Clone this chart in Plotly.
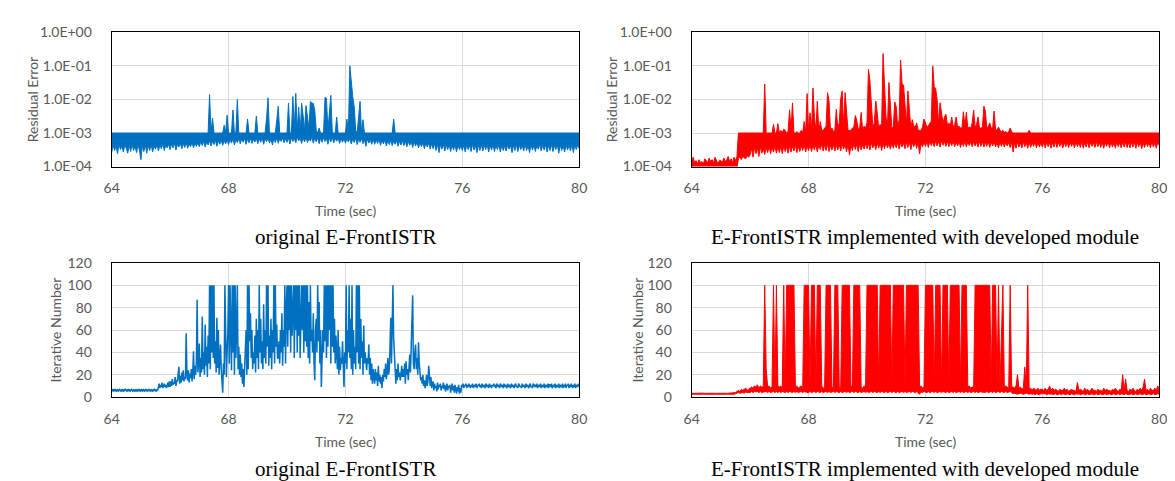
import plotly.graph_objects as go

# ---------------- data ----------------
X_TICKS = [64, 68, 72, 76, 80]
RES_TICK_VALS = [1e-4, 1e-3, 1e-2, 1e-1, 1e0]
RES_TICK_TEXT = ["1.0E-04", "1.0E-03", "1.0E-02", "1.0E-01", "1.0E+00"]
ITER_TICKS = [0, 20, 40, 60, 80, 100, 120]

T0 = 64.0          # first sample time (s)
DT = 0.05          # sampling step of the envelope series (s)
DT_FINE = 0.025    # sampling step of the iterative-number series (original)
RES_UNIT = 1e-4    # residual values below are given in units of 1e-4

CAPTION_ORIG = "original E-FrontISTR"
CAPTION_MOD = "E-FrontISTR implemented with developed module"

# Dense signals are given as per-sample upper / lower envelopes (one row per second)

# residual error, original E-FrontISTR (units of 1e-4)
RES_ORIG_HI = (
    [10,10,10,10,10,10,10,10,10,10,10,10,10,10,10,10,10,10,10,10]                # 64
  + [10,10,10,10,10,10,10,10,10,10,10,10,10,10,10,10,10,10,10,10]                # 65
  + [10,10,10,10,10,10,10,10,10,10,10,10,10,10,10,10,10,10,10,10]                # 66
  + [10,10,10,10,10,10,10,140,10,28,10,10,10,10,10,10,10,17,10,34]               # 67
  + [10,10,10,49,10,10,100,10,10,10,10,10,10,26,10,10,10,10,10,32]               # 68
  + [10,10,10,10,10,10,27,112,10,10,10,10,10,24,63,10,10,10,10,10]               # 69
  + [10,78,10,10,123,14,152,12,59,10,77,34,12,66,30,14,87,78,76,47]              # 70
  + [12,10,14,10,10,10,115,108,12,53,133,10,10,10,30,10,10,10,10,10]             # 71
  + [10,26,10,1000,310,120,60,12,10,43,88,10,25,10,10,10,10,10,10,10]            # 72
  + [10,10,10,10,10,10,10,10,10,10,10,10,10,26,10,10,10,10,10,10]                # 73
  + [10,10,10,10,10,10,10,10,10,10,10,10,10,10,10,10,10,10,10,10]                # 74
  + [10,10,10,10,10,10,10,10,10,10,10,10,10,10,10,10,10,10,10,10]                # 75
  + [10,10,10,10,10,10,10,10,10,10,10,10,10,10,10,10,10,10,10,10]                # 76
  + [10,10,10,10,10,10,10,10,10,10,10,10,10,10,10,10,10,10,10,10]                # 77
  + [10,10,10,10,10,10,10,10,10,10,10,10,10,10,10,10,10,10,10,10]                # 78
  + [10,10,10,10,10,10,10,10,10,10,10,10,10,10,10,10,10,10,10,10]                # 79
  + [10]                                                                         # 80
)
RES_ORIG_LO = (
    [2.6,4.5,3,4.2,2.4,4.6,3.2,4,2.7,4.4,3.5,2.5,4.3,2.8,4.6,3,4.1,2.6,4.4,3.1]    # 64
  + [1.6,4.2,2.8,4.5,2.5,4.3,3,4.6,2.7,4.1,3.3,4.5,2.9,4.4,3.4,4.7,3,4.3,3.6,4.6]  # 65
  + [3.2,4.8,3.6,5,3.1,4.7,3.8,5.1,3.4,4.9,3.7,5.2,3.5,4.8,3.9,5.3,3.6,5,4,5.2]    # 66
  + [3.9,5.6,4.2,5.8,3.8,5.5,4.4,6,4.1,5.7,4.5,6.1,4,5.9,4.6,6.2,4.3,6,4.7,6.3]    # 67
  + [4.5,6.5,5,6.8,4.4,6.4,5.2,6.9,4.8,6.6,5.3,7,4.6,6.7,5.1,7.1,4.9,6.5,5.4,7]    # 68
  + [4.8,6.8,5.3,7.2,4.6,6.9,5.5,7.1,5,6.7,4.4,7,5.2,7.3,4.9,6.8,5.6,7.2,5.1,6.9]  # 69
  + [5.3,7.2,4.7,7.4,5.6,7,5.1,7.5,5.8,7.1,4.9,7.3,5.4,7.6,5.2,7,5.7,7.4,5,7.2]    # 70
  + [5.5,7.3,4.8,7.1,5.3,7.4,5.6,7,4.6,7.2,5.4,7.5,5.1,6.9,5.7,7.2,4.9,7,5.3,6.8]  # 71
  + [5,6.9,5.4,7,4.7,6.8,5.2,7.1,4.5,6.6,5.3,6.9,4.8,6.5,4,6.7,5,6.4,4.6,6.6]      # 72
  + [4.6,6.3,4.9,6.5,4.3,6.2,4.7,6.4,4.1,6,4.5,6.2,4.2,5.9,4.6,6.1,4,5.8,4.4,6]    # 73
  + [4.2,5.8,3.9,5.6,4.3,5.7,3.7,5.5,4.1,5.4,3.6,5.2,3.9,5.3,3.4,5,3.8,5.1,3.3,4.9]  # 74
  + [3.4,4.8,3,4.7,2.6,4.5,3.3,4.6,2.9,4.4,3.2,4.6,2.8,4.3,3.1,4.5,2.7,4.4,3.2,4.2]  # 75
  + [3,4.4,2.7,4.5,3.2,4.3,2.8,4.6,3.1,4.2,2.6,4.4,3,4.5,2.9,4.3,3.2,4.6,2.7,4.4]  # 76
  + [3.1,4.5,2.8,4.3,3.2,4.6,2.7,4.4,3,4.2,2.9,4.5,3.3,4.3,2.6,4.4,3,4.6,2.8,4.3]  # 77
  + [3.2,4.4,2.9,4.6,3,4.3,2.6,4.5,3.1,4.4,2.8,4.2,3.3,4.6,2.9,4.4,3.1,4.5,2.7,4.3]  # 78
  + [3,4.5,2.8,4.3,3.2,4.6,2.5,4.4,3,4.2,2.7,4.5,3.1,4.3,2.9,4.6,2.6,4.4,3.2,4.5]  # 79
  + [3.4]                                                                         # 80
)

# residual error, with developed module (units of 1e-4)
RES_MOD_HI = (
    [1.4,1.9,1.3,1.5,1.2,1.6,1.3,1.4,1.2,1.7,1.5,1.3,1.8,1.4,1.6,1.3,1.9,1.4,1.2,1.5]  # 64
  + [1.5,1.3,1.8,1.4,1.6,2,1.4,1.7,1.3,1.9,1.5,2,10,10,10,10,10,10,10,10]             # 65
  + [10,10,10,10,10,10,10,10,10,10,290,10,10,10,10,10,18,10,10,19]                    # 66
  + [10,12,10,13,12,10,11,49,12,79,10,10,11,10,10,12,10,22,10,150]                    # 67
  + [12,40,11,220,30,12,90,11,22,12,12,14,16,160,90,12,14,11,12,51]                   # 68
  + [14,20,104,180,15,160,50,12,12,12,14,15,33,24,13,14,41,12,16,14]                  # 69
  + [20,790,360,50,15,20,90,40,14,18,16,2340,230,30,16,320,70,14,15,85]               # 70
  + [60,15,25,1500,290,270,70,18,180,50,14,25,16,15,20,12,12,12,15,26]                # 71
  + [20,15,16,20,22,1000,240,210,100,18,80,40,20,30,36,18,20,16,30,15]                # 72
  + [18,30,15,16,14,14,43,16,41,14,15,14,20,48,15,18,30,14,14,15]                     # 73
  + [63,45,14,16,20,14,14,45,13,12,15,12,11,12,10.5,11,10,11,14,11]                   # 74
  + [10,10,10,10,10,10,10,10,10,10,10,12,10,10,10,10,10,10,10,10]                     # 75
  + [10,10,10,10,10,10,10,10,10,10,10,10,10,10,10,10,10,10,10,10]                     # 76
  + [10,10,10,10,10,10,10,10,10,10,10,10,10,10,10,10,10,10,10,10]                     # 77
  + [10,10,10,10,10,10,10,10,10,10,10,10,10,10,10,10,10,10,10,10]                     # 78
  + [10,10,10,10,10,10,10,10,10,10,10,10,10,10,10,10,10,10,10,10]                     # 79
  + [10]                                                                              # 80
)
RES_MOD_LO = (
    [0.9,0.9,0.9,0.9,0.9,0.9,0.9,0.9,0.9,0.9,0.9,0.9,0.9,0.9,0.9,0.9,0.9,0.9,0.9,0.9]  # 64
  + [0.9,0.9,0.9,0.9,0.9,0.9,0.9,0.9,0.9,0.9,0.9,0.9,1.7,1.9,1.6,2,1.8,1.7,2.1,1.9]    # 65
  + [2.2,3.5,1.9,3.8,2.4,3.6,2,3.9,2.5,3.4,2.3,3.7,2.6,4,2.4,3.8,2.7,4.1,2.5,3.9]      # 66
  + [2.6,4,2.4,4.2,2.8,3.9,2.5,4.3,2.7,4.1,2.9,4.4,2.6,4,2.8,4.2,3,4.5,2.7,4.1]        # 67
  + [3,4.5,2.8,4.3,3.1,4.6,2.7,4.4,3.2,4.7,2.9,4.5,3,4.8,2.8,4.4,3.1,4.6,2.9,4.5]      # 68
  + [3.1,4.6,2.9,4.8,3.3,4.5,2.7,4.7,2.2,4.4,3,4.9,3.2,4.6,2.8,4.8,3.1,4.5,3.3,4.9]    # 69
  + [3.4,5,3.1,5.2,3.6,4.9,3.2,5.1,3.5,5.3,3,5,3.4,5.2,3.6,4.8,3.3,5.1,3.5,5.2]        # 70
  + [3.6,5.3,3.3,5.5,3.8,5.1,3.4,5.4,3.7,5.6,3.2,5.2,3.9,5.5,3.5,5.3,2.4,5,3.8,5.4]    # 71
  + [4,5.6,3.7,5.8,4.2,5.5,3.9,5.9,4.1,5.7,3.8,6,4.3,5.6,4,5.8,3.9,5.5,4.2,5.7]        # 72
  + [3.9,5.5,4.1,5.7,3.7,5.4,4,5.8,3.8,5.5,4.2,5.6,3.9,5.7,4.1,5.4,3.8,5.6,4,5.5]      # 73
  + [3.8,5.4,4,5.6,3.7,5.3,4.1,5.5,3.9,5.2,3.6,5.4,4,5.5,3.8,5.3,4.1,5.2,3.7,5.4]      # 74
  + [2.7,5.2,3.5,5.4,3.8,5.1,3.6,5.5,3.9,5.3,3.5,5.4,3.7,5.2,4,5.5,3.6,5.3,3.8,5.1]    # 75
  + [3.8,5.3,3.6,5.5,3.9,5.2,3.5,5.4,3.8,5.6,3.7,5.3,4,5.5,3.6,5.2,3.9,5.4,3.7,5.5]    # 76
  + [4,5.4,3.6,5.5,3.9,5.2,3.7,5.6,3.5,5.3,3.8,5.5,3.6,5.4,4,5.2,3.7,5.5,3.9,5.3]      # 77
  + [3.7,5.5,3.5,5.3,4,5.6,3.6,5.4,3.8,5.2,3.5,5.5,3.9,5.3,3.6,5.6,3.8,5.4,3.7,5.3]    # 78
  + [3.6,5.4,3.8,5.6,3.5,5.3,3.9,5.5,3.4,5.2,3.7,5.5,3.9,5.4,3.6,5.6,3.8,5.3,3.5,5.4]  # 79
  + [4.2]                                                                             # 80
)

# iterative number, original E-FrontISTR (sample by sample, 40 per second)
ITER_ORIG = (
    [6,7,5,7,6,7,5,6,7,5,6,7,6,5,7,6,5,7,6,7,6,5,7,6,7,5,6,7,6,5,7,6,5,7,6,5,7,6,7,5]                          # 64
  + [6,7,5,7,6,5,7,6,7,5,6,7,6,5,7,6,5,7,6,7,6,5,7,6,9,12,8,11,9,13,8,10,12,9,11,8,10,13,9,14]                 # 65
  + [9,14,10,16,11,13,12,18,10,15,14,20,27,12,19,13,22,15,24,14,18,16,57,20,15,24,13,21,17,25,14,22,41,16,28,20,33,87,22,30]  # 66
  + [48,18,35,22,72,25,40,20,65,28,45,18,55,30,100,25,100,40,100,35,100,30,50,22,71,26,60,20,38,47,25,15,4,30,20,100,35,18,40,58]  # 67
  + [100,30,100,45,24,100,40,100,20,100,35,60,100,25,45,20,38,18,30,12,25,9,30,45,60,20,100,25,100,50,75,35,60,25,40,30,55,22,70,35]  # 68
  + [60,25,100,40,70,30,50,25,83,35,60,30,100,45,100,28,55,35,70,25,60,40,100,30,100,45,65,35,35,50,30,60,40,75,28,60,45,100,30,80]  # 69
  + [100,45,100,60,100,40,100,55,80,100,35,100,60,100,40,100,55,100,35,90,100,60,100,40,100,50,100,45,100,35,85,30,100,50,60,40,75,30,15,60]  # 70
  + [70,40,100,50,85,30,60,9,45,60,40,100,50,100,35,100,45,100,60,100,30,100,45,100,40,70,30,55,40,25,60,20,45,24,35,30,50,20,9,40]  # 71
  + [30,100,25,60,40,100,35,70,25,100,20,60,30,45,25,100,40,100,30,100,25,70,35,50,20,64,30,40,25,24,35,30,47,20,35,15,30,12,25,18]  # 72
  + [12,25,15,22,10,28,14,20,12,18,8,20,14,25,18,30,16,22,35,20,25,45,71,30,60,100,52,35,20,12,25,15,30,18,22,15,20,28,18,25]  # 73
  + [18,30,12,32,20,25,15,30,38,22,45,60,91,30,25,40,47,25,35,20,49,30,22,15,18,12,20,10,15,8,12,20,10,15,28,12,10,18,8,12]  # 74
  + [14,6,12,8,10,5,13,7,11,9,12,6,10,8,13,7,11,5,9,12,6,10,8,11,4,9,12,6,10,4,11,7,3,9,5,11,3,8,4,11]           # 75
  + [9,12,8,11,10,12,8,11,9,12,10,8,11,9,12,8,10,11,9,12,8,11,10,12,9,11,8,12,10,9,11,8,12,10,9,11,8,12,9,11]     # 76
  + [8,11,10,12,9,11,8,12,10,9,11,8,12,10,9,11,8,12,9,11,10,8,12,9,11,10,8,12,9,11,10,8,11,12,9,10,8,12,11,9]     # 77
  + [10,8,12,9,11,10,8,12,9,11,10,8,11,12,9,10,8,12,11,9,11,9,12,8,10,11,9,12,8,11,10,9,12,8,11,10,9,12,8,11]     # 78
  + [11,9,12,8,10,11,9,12,8,11,10,9,12,8,11,10,9,12,8,11,9,12,8,11,10,12,8,11,9,12,10,8,11,9,12,8,10,11,9,12]     # 79
  + [10]                                                                                                         # 80
)

# iterative number, with developed module (envelopes, 20 per second)
ITER_MOD_HI = (
    [3.3,3.4,3.3,3.5,3.3,3.4,3.3,3.4,3.5,3.3,3.4,3.3,3.4,3.3,3.5,3.4,3.3,3.4,3.3,3.4]     # 64
  + [3.4,3.3,3.5,3.4,3.3,3.4,3.5,3.3,3.4,3.5,4,5,6,5,7,6,7,8,6,7]                       # 65
  + [8,9,8,10,9,11,8,10,9,9,100,25,9,10,8,9,100,9,100,10]                               # 66
  + [9,10,8,100,9,100,100,100,100,100,100,9,10,8,9,10,8,100,100,100]                    # 67
  + [100,9,100,100,100,9,100,100,100,10,8,9,100,100,100,100,9,8,100,100]                # 68
  + [100,9,8,100,100,100,100,100,100,10,9,100,100,100,100,100,9,8,10,9]                 # 69
  + [100,100,100,100,100,100,100,100,9,100,100,100,100,100,100,100,100,10,100,100]      # 70
  + [100,100,100,100,100,100,9,100,100,100,100,100,100,100,100,100,9,10,8,9]            # 71
  + [100,100,100,100,100,100,10,100,100,100,100,9,100,100,100,100,9,100,100,100]        # 72
  + [100,100,100,100,9,100,100,100,100,9,10,8,9,9,100,100,100,100,100,100]              # 73
  + [100,100,100,100,100,9,100,100,100,9,100,9,53,100,9,10,9,8,100,9]                   # 74
  + [9,8,10,20,8,9,7,8,27,8,100,7,8,6,8,7,6,8,6,7]                                      # 75
  + [7,6,8,6,7,10,6,8,6,7,6,5,7,6,6,8,6,7,5,6]                                          # 76
  + [7,6,6,5,13,6,7,6,5,8,6,7,5,6,8,6,6,5,7,6]                                          # 77
  + [6,5,8,6,7,6,6,5,7,6,8,6,5,7,6,20,6,16,6,5]                                         # 78
  + [7,6,8,6,5,7,6,8,6,9,16,6,7,5,8,6,6,8,6,10]                                         # 79
  + [7]                                                                                 # 80
)
ITER_MOD_LO = (
    [2.6,2.5,2.6,2.5,2.6,2.5,2.6,2.5,2.6,2.5,2.6,2.5,2.6,2.5,2.6,2.5,2.6,2.5,2.6,2.5]     # 64
  + [2.6,2.5,2.6,2.5,2.6,2.5,2.6,2.5,2.6,2.5,3,3.5,4,3.5,4,4,3.5,4.5,4,4]               # 65
  + [4,5,4,5,4.5,5,4,5,4,4.5,5,5,4,5,4,4.5,5,4,5,4]                                     # 66
  + [5,4,5,4.5,4,5,4,5,4.5,4,5,4,5,4,4.5,5,4,5,4.5,4]                                   # 67
  + [4,5,4,4.5,5,4,5,4.5,4,5,4,4.5,5,4,5,4,4.5,5,4,5]                                   # 68
  + [4.5,4,5,4,4.5,5,4,5,4,4.5,5,4,5,4.5,4,5,4,4.5,5,4]                                 # 69
  + [5,4,4.5,5,4,5,4.5,4,5,4,5,4.5,4,5,4,4.5,5,4,5,4.5]                                 # 70
  + [4,5,4,4.5,5,4,5,4,4.5,5,4,5,4.5,4,5,4,2.5,4.5,4,5]                                 # 71
  + [4.5,4,5,4,4.5,5,4,5,4,4.5,5,4,5,4.5,4,5,4,4.5,5,4]                                 # 72
  + [5,4,4.5,5,4,5,4,4.5,5,4,5,4,4.5,5,4,5,4,4.5,5,4]                                   # 73
  + [4.5,4,5,4,4.5,5,4,5,4,4.5,5,4,5,4.5,4,5,4,4.5,5,4]                                 # 74
  + [3,3.5,3,2.5,3,3.5,3,2.5,3,3.5,3,2.5,3,2.5,3,2,3,2.5,2,3]                           # 75
  + [3,2.5,3,2,3,2.5,3,2,2.5,3,2,2.5,3,2,3,2.5,2,3,2.5,2]                               # 76
  + [3,2.5,2,3,2.5,3,2,2.5,3,2,2.5,3,2,2.5,3,2,2.5,3,2,2.5]                             # 77
  + [3,2,2.5,3,2,2.5,3,2,2.5,3,2,2.5,3,2,3,2.5,2,3,2.5,2]                               # 78
  + [2.5,3,2,2.5,3,2,2.5,3,2,2.5,3,2,2.5,3,2,2.5,3,2,2.5,3]                             # 79
  + [2.5]                                                                               # 80
)

# ---------------- layout / style ----------------
W, H = 1175, 481
BLUE = "#0070C0"
RED = "#FF0000"
GRID = "#D9D9D9"
TICK_COLOR = "#595959"
SANS = "Lato, Carlito, Calibri, sans-serif"
SERIF = "Liberation Serif, Times New Roman, serif"

def px_x(p):
    return p / W

def px_y(p):
    return 1 - p / H

LEFT = (97, 571)
RIGHT = (685, 1159)
TOP = (16, 155)
BOTTOM = (255, 394)

fig = go.Figure()

def add_band(lo, hi, color, xa, ya, scale=1.0):
    fig.add_trace(go.Scatter(x0=T0, dx=DT, y=[v * scale for v in lo], mode="lines",
                             line=dict(color=color, width=1), xaxis=xa, yaxis=ya,
                             showlegend=False, hoverinfo="skip"))
    fig.add_trace(go.Scatter(x0=T0, dx=DT, y=[v * scale for v in hi], mode="lines",
                             line=dict(color=color, width=1), fill="tonexty",
                             fillcolor=color, xaxis=xa, yaxis=ya,
                             showlegend=False, hoverinfo="skip"))

add_band(RES_ORIG_LO, RES_ORIG_HI, BLUE, "x", "y", RES_UNIT)
add_band(RES_MOD_LO, RES_MOD_HI, RED, "x2", "y2", RES_UNIT)
fig.add_trace(go.Scatter(x0=T0, dx=DT_FINE, y=ITER_ORIG, mode="lines",
                         line=dict(color=BLUE, width=1.5), xaxis="x3", yaxis="y3",
                         showlegend=False, hoverinfo="skip"))
add_band(ITER_MOD_LO, ITER_MOD_HI, RED, "x4", "y4")

common = dict(showgrid=True, gridcolor=GRID, gridwidth=1, showline=True,
              linecolor="black", linewidth=1, mirror=True, zeroline=False,
              ticks="", tickfont=dict(family=SANS, size=14, color=TICK_COLOR))

def xax(dom, anchor):
    return dict(common, domain=[px_x(dom[0]), px_x(dom[1])], anchor=anchor,
                range=[X_TICKS[0], X_TICKS[-1]], tickvals=X_TICKS,
                ticklabelstandoff=9)

def yax_res(dom, anchor):
    return dict(common, domain=[px_y(dom[1]), px_y(dom[0])], anchor=anchor,
                type="log", range=[-4, 0], tickvals=RES_TICK_VALS,
                ticktext=RES_TICK_TEXT, ticklabelstandoff=16)

def yax_iter(dom, anchor):
    return dict(common, domain=[px_y(dom[1]), px_y(dom[0])], anchor=anchor,
                range=[0, 120], tickvals=ITER_TICKS, ticklabelstandoff=16)

fig.update_layout(
    width=W, height=H,
    margin=dict(l=0, r=0, t=0, b=0),
    paper_bgcolor="white", plot_bgcolor="white",
    xaxis=xax(LEFT, "y"), yaxis=yax_res(TOP, "x"),
    xaxis2=xax(RIGHT, "y2"), yaxis2=yax_res(TOP, "x2"),
    xaxis3=xax(LEFT, "y3"), yaxis3=yax_iter(BOTTOM, "x3"),
    xaxis4=xax(RIGHT, "y4"), yaxis4=yax_iter(BOTTOM, "x4"),
)

ann = []
def add_text(text, xp, yp, size, family, color, angle=0):
    ann.append(dict(text=text, x=px_x(xp), y=px_y(yp), xref="paper", yref="paper",
                    showarrow=False, xanchor="center", yanchor="middle",
                    textangle=angle, font=dict(family=family, size=size, color=color)))

for (col, ytitle_x_top, ytitle_x_bot, cap) in [
        (LEFT, 17, 40, CAPTION_ORIG), (RIGHT, 604, 630, CAPTION_MOD)]:
    cx = (col[0] + col[1]) / 2
    add_text("Time (sec)", cx, 201, 14, SANS, TICK_COLOR)
    add_text("Time (sec)", cx, 440, 14, SANS, TICK_COLOR)
    add_text(cap, cx, 228, 21, SERIF, "black")
    add_text(cap, cx, 469, 21, SERIF, "black")
    add_text("Residual Error", ytitle_x_top, (TOP[0] + TOP[1]) / 2, 14, SANS, TICK_COLOR, -90)
    add_text("Iterative Number", ytitle_x_bot, (BOTTOM[0] + BOTTOM[1]) / 2, 14, SANS, TICK_COLOR, -90)

fig.update_layout(annotations=ann)
fig.write_html("out.html")
